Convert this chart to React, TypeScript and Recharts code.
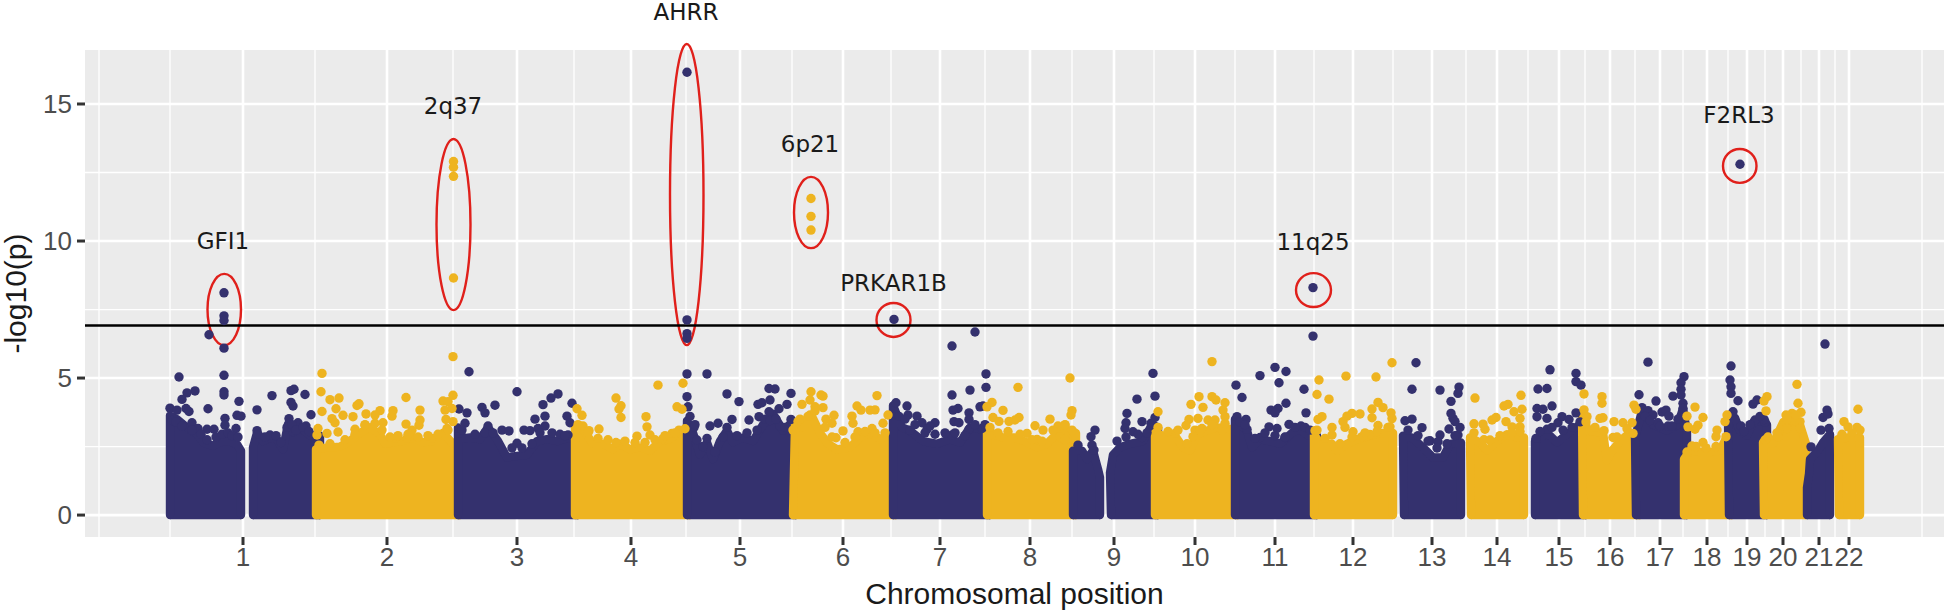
import {
  ComposedChart, Area, Scatter, XAxis, YAxis, CartesianGrid, ReferenceLine, ReferenceArea, ReferenceDot,
} from 'recharts';

const NAVY = '#34316e';
const GOLD = '#eeb420';

// x values are positions along the concatenated genome, in figure units
const chromosomes = ['1', '2', '3', '4', '5', '6', '7', '8', '9', '10', '11', '12', '13', '14', '15', '16', '17', '18', '19', '20', '21', '22'];
const chromosomeTicks = [243, 387, 517, 631, 740, 843, 940, 1030, 1114, 1195, 1275, 1353, 1432, 1497, 1559, 1610, 1660, 1707, 1747, 1783, 1819, 1849];
const minorBreaksX = [99, 170, 315, 453, 574, 686, 792, 891, 985, 1072, 1154, 1235, 1314, 1393, 1466, 1528, 1585, 1635, 1683, 1728, 1765, 1801, 1835, 1922];
const pTicks = [0, 5, 10, 15];
const minorBreaksY = [2.5, 7.5, 12.5];
const threshold = 6.92;

// upper edge of the solid mass of SNPs, [position, -log10(p)]
const navyMass: number[][][] = [
  [[170, 0], [170, 3.63], [177, 3.5], [187, 3.2], [197, 2.96], [203, 2.65], [213, 2.53], [223, 2.7], [230, 2.7], [237, 2.58], [241, 2.35], [241, 0]],
  [[253, 0], [253, 2.47], [257, 3.0], [263, 2.7], [270, 2.83], [277, 2.77], [283, 2.4], [288, 3.32], [300, 3.2], [310, 2.9], [320, 2.9], [320, 0]],
  [[458, 0], [458, 3.2], [463, 2.8], [470, 2.83], [480, 2.77], [488, 3.2], [498, 2.7], [507, 2.1], [517, 2.16], [527, 2.2], [537, 2.7], [547, 2.77], [558, 2.7], [567, 2.8], [578, 2.8], [578, 0]],
  [[687, 0], [687, 3.44], [693, 3.0], [700, 2.2], [707, 2.65], [713, 2.04], [720, 2.7], [727, 3.08], [733, 2.65], [743, 2.83], [753, 2.7], [763, 3.3], [773, 3.7], [783, 3.08], [792, 3.38], [796, 3.3], [796, 0]],
  [[893, 0], [893, 4.0], [902, 3.2], [910, 3.08], [923, 2.7], [937, 2.6], [950, 2.77], [960, 2.65], [970, 3.2], [980, 3.14], [990, 3.1], [990, 0]],
  [[1073, 0], [1073, 2.35], [1082, 2.35], [1087, 2.04], [1093, 2.35], [1098, 1.68], [1100, 1.37], [1100, 0]],
  [[1111, 0], [1110, 1.55], [1113, 2.2], [1120, 2.47], [1130, 2.6], [1143, 2.7], [1152, 3.3], [1158, 3.2], [1158, 0]],
  [[1235, 0], [1235, 3.5], [1247, 3.08], [1252, 2.47], [1260, 2.77], [1270, 2.7], [1280, 2.6], [1292, 3.0], [1300, 3.14], [1308, 2.9], [1317, 2.9], [1317, 0]],
  [[1404, 0], [1403, 2.9], [1412, 2.83], [1423, 2.47], [1433, 2.1], [1443, 2.1], [1450, 2.6], [1461, 2.65], [1461, 0]],
  [[1535, 0], [1535, 2.7], [1547, 3.0], [1557, 2.65], [1567, 2.95], [1578, 3.26], [1586, 3.2], [1586, 0]],
  [[1636, 0], [1635, 2.83], [1642, 3.8], [1653, 3.3], [1667, 3.08], [1678, 3.3], [1683, 3.9], [1687, 3.0], [1687, 0]],
  [[1729, 0], [1728, 3.6], [1735, 3.55], [1740, 3.08], [1747, 2.9], [1753, 3.38], [1763, 3.44], [1767, 3.3], [1767, 0]],
  [[1807, 0], [1807, 1.0], [1809, 1.5], [1810, 2.04], [1818, 2.35], [1823, 2.65], [1830, 2.95], [1830, 0]],
];

const goldMass: number[][][] = [
  [[316, 0], [316, 2.4], [325, 2.45], [340, 2.5], [350, 2.7], [360, 3.0], [370, 3.2], [380, 2.95], [385, 2.6], [393, 2.65], [403, 2.7], [413, 2.83], [423, 2.65], [433, 2.7], [443, 3.0], [453, 2.6], [460, 2.6], [460, 0]],
  [[575, 0], [575, 3.2], [583, 3.14], [593, 2.6], [603, 2.6], [613, 2.4], [620, 2.6], [630, 2.4], [640, 2.47], [650, 2.35], [660, 2.7], [670, 2.77], [680, 3.08], [690, 3.0], [690, 0]],
  [[793, 0], [795, 3.3], [803, 3.2], [812, 3.6], [820, 3.0], [828, 2.6], [837, 2.4], [850, 2.47], [860, 2.83], [870, 3.0], [880, 2.77], [890, 2.95], [896, 2.9], [896, 0]],
  [[987, 0], [987, 3.08], [993, 2.95], [1003, 2.83], [1015, 2.83], [1027, 2.65], [1037, 2.47], [1047, 2.6], [1060, 3.08], [1070, 3.08], [1076, 3.0], [1076, 0]],
  [[1155, 0], [1155, 3.0], [1163, 2.9], [1175, 2.9], [1183, 2.47], [1190, 2.35], [1197, 2.95], [1207, 3.08], [1217, 3.2], [1230, 3.14], [1238, 3.1], [1238, 0]],
  [[1314, 0], [1314, 2.95], [1320, 2.6], [1332, 2.6], [1337, 2.35], [1347, 2.6], [1357, 2.77], [1370, 2.9], [1383, 3.0], [1393, 3.0], [1393, 0]],
  [[1471, 0], [1470, 2.83], [1480, 2.65], [1487, 2.35], [1497, 2.7], [1507, 2.95], [1517, 2.83], [1524, 2.83], [1524, 0]],
  [[1583, 0], [1582, 3.75], [1588, 3.08], [1603, 3.0], [1607, 2.0], [1612, 2.35], [1620, 2.7], [1630, 3.0], [1640, 2.9], [1640, 0]],
  [[1684, 0], [1684, 2.04], [1690, 2.35], [1700, 2.3], [1710, 2.3], [1720, 2.35], [1726, 2.8], [1732, 2.7], [1732, 0]],
  [[1764, 0], [1763, 2.65], [1773, 2.6], [1783, 3.38], [1792, 3.5], [1800, 3.3], [1806, 2.6], [1806, 0]],
  [[1839, 0], [1838, 2.77], [1848, 2.83], [1860, 2.83], [1860, 0]],
];

// single SNPs standing clear of the mass
const navySnps = [
  [224, 8.11], [224, 7.27], [224, 7.1], [209, 6.58], [224, 6.09], [224, 5.1], [224, 4.5], [224, 4.38], [179, 5.04], [195, 4.53], [187, 4.46], [182, 4.22],
  [186, 3.89], [189, 3.78], [208, 3.88], [170, 3.9], [177, 3.83], [192, 3.37], [198, 3.16], [207, 3.13], [214, 3.13], [239, 4.15], [237, 3.64], [241, 3.61],
  [225, 3.53], [225, 3.28], [236, 3.16], [257, 3.84], [272, 4.36], [291, 4.54], [294, 4.59], [305, 4.4], [291, 4.11], [293, 3.98], [311, 3.66], [289, 3.52],
  [298, 3.37], [306, 3.25], [257, 3.08], [270, 2.92], [293, 3.04],
  [172, 3.45], [176, 3.4], [182, 3.25], [192, 3.1], [201, 2.95], [207, 2.75], [216, 2.85], [222, 2.95], [228, 3.0], [232, 2.9], [238, 2.85], [258, 2.95],
  [265, 2.85], [276, 2.9], [281, 2.65], [287, 3.2], [292, 3.3], [296, 3.1], [303, 3.2], [309, 3.05],
  [469, 5.23], [459, 3.87], [467, 3.73], [465, 3.35], [459, 2.98], [482, 3.93], [485, 3.73], [495, 4.01], [488, 3.25], [502, 3.1], [509, 3.07], [517, 4.5],
  [517, 2.62], [524, 3.1], [530, 3.08], [535, 3.5], [543, 4.03], [551, 4.27], [558, 4.42], [545, 3.61], [545, 3.25], [538, 3.16], [572, 4.08], [567, 3.61],
  [570, 3.37], [568, 2.92],
  [462, 3.1], [475, 2.95], [485, 3.0], [493, 3.0], [512, 2.45], [522, 2.45], [532, 2.6], [540, 3.0], [552, 3.0], [560, 2.95], [565, 2.9],
  [687, 16.16], [687, 7.12], [687, 6.62], [687, 6.45], [687, 5.15], [707, 5.15], [687, 4.32], [688, 3.95], [727, 4.42], [739, 4.14], [769, 4.62], [775, 4.6],
  [770, 4.2], [791, 4.44], [758, 4.04], [762, 4.1], [787, 4.04], [779, 3.88], [749, 3.47], [759, 3.59], [769, 3.77], [710, 3.25], [718, 3.35], [732, 3.49],
  [727, 3.2], [707, 2.8], [694, 3.2], [697, 2.74], [791, 3.49], [780, 3.25],
  [690, 3.6], [695, 3.3], [703, 2.5], [715, 2.3], [723, 2.85], [737, 2.9], [747, 3.0], [757, 3.1], [765, 3.5], [770, 3.45], [776, 3.5], [785, 3.2],
  [894, 7.14], [952, 6.17], [975, 6.68], [986, 5.15], [986, 4.66], [952, 4.38], [970, 4.56], [896, 4.1], [907, 3.98], [908, 3.65], [917, 3.61], [922, 3.37],
  [935, 3.37], [930, 3.25], [958, 3.89], [953, 3.83], [954, 3.41], [959, 3.37], [969, 3.73], [969, 3.49], [969, 3.13], [980, 3.95], [983, 3.98], [982, 3.16],
  [910, 3.1], [927, 3.13], [952, 2.92],
  [899, 3.6], [905, 3.5], [915, 3.3], [925, 3.0], [935, 2.95], [945, 3.0], [955, 3.0], [965, 2.9], [975, 3.3], [985, 3.3],
  [1095, 3.1], [1091, 2.86], [1094, 2.37], [1153, 5.17], [1155, 4.34], [1137, 4.23], [1127, 3.71], [1126, 3.37], [1133, 3.04], [1142, 3.41], [1151, 3.35],
  [1155, 3.56], [1142, 2.83], [1125, 3.16],
  [1078, 2.55], [1092, 2.55], [1117, 2.7], [1126, 2.85], [1138, 2.95], [1147, 3.0],
  [1313, 8.3], [1313, 6.53], [1260, 5.09], [1275, 5.39], [1286, 5.24], [1279, 4.83], [1236, 4.74], [1242, 4.29], [1286, 4.08], [1278, 3.89], [1271, 3.83],
  [1275, 3.73], [1289, 3.31], [1269, 3.22], [1277, 3.16], [1237, 3.59], [1246, 3.49], [1247, 3.13], [1285, 2.83], [1260, 2.83], [1304, 4.59], [1306, 3.73],
  [1301, 3.25],
  [1240, 3.4], [1245, 3.3], [1255, 2.8], [1265, 3.0], [1275, 2.9], [1285, 2.85], [1295, 3.2], [1305, 3.2], [1310, 3.1],
  [1416, 5.56], [1412, 4.59], [1440, 4.56], [1459, 4.67], [1458, 4.44], [1451, 4.15], [1451, 3.71], [1453, 3.53], [1460, 3.2], [1449, 3.14], [1455, 3.41],
  [1405, 3.44], [1412, 3.5], [1422, 3.19], [1430, 2.71], [1440, 2.92], [1458, 2.92], [1438, 2.68],
  [1408, 3.1], [1418, 2.9], [1428, 2.7], [1437, 2.45], [1447, 2.6], [1455, 2.9],
  [1550, 5.3], [1538, 4.6], [1547, 4.62], [1576, 5.17], [1576, 4.87], [1581, 4.74], [1537, 3.89], [1543, 3.86], [1552, 3.98], [1537, 3.59], [1547, 3.53],
  [1558, 3.37], [1562, 3.59], [1569, 3.49], [1576, 3.73], [1547, 3.13], [1536, 2.8],
  [1540, 3.05], [1552, 3.2], [1563, 3.1], [1572, 3.2], [1580, 3.4],
  [1648, 5.58], [1639, 4.39], [1642, 3.92], [1648, 3.81], [1653, 3.65], [1656, 4.16], [1662, 3.76], [1666, 3.83], [1669, 3.61], [1673, 4.34], [1684, 5.05],
  [1681, 4.83], [1681, 4.59], [1681, 4.38], [1683, 4.08], [1683, 3.89], [1681, 3.59], [1658, 3.37], [1668, 3.25],
  [1645, 3.6], [1650, 3.45], [1660, 3.25], [1672, 3.25], [1678, 3.5],
  [1740, 12.8], [1731, 5.44], [1730, 4.93], [1731, 4.68], [1731, 4.44], [1738, 4.17], [1757, 4.2], [1753, 4.05], [1765, 3.4], [1741, 3.25], [1764, 3.49],
  [1755, 3.47], [1733, 3.77], [1744, 3.05], [1750, 3.3], [1760, 3.6],
  [1825, 6.24], [1811, 2.49], [1827, 3.83], [1823, 3.56], [1828, 3.69], [1821, 3.1], [1829, 3.16],
];

const goldSnps = [
  [322, 5.17], [321, 4.5], [330, 4.21], [339, 4.27], [322, 3.78], [336, 3.88], [343, 3.64], [332, 3.52], [335, 3.37], [338, 3.03], [353, 3.59], [357, 4.0],
  [359, 4.06], [366, 3.69], [380, 3.81], [375, 3.65], [393, 3.81], [392, 3.61], [383, 3.37], [406, 4.29], [420, 3.83], [420, 3.47], [419, 3.28], [406, 3.32],
  [412, 3.1], [453.5, 12.9], [453.5, 12.69], [453.5, 12.36], [453.5, 8.65], [453, 5.78], [453, 4.37], [443, 4.16], [448, 4.14], [445, 3.83], [452, 3.89],
  [446, 3.49], [453, 3.41], [447, 3.16], [317, 2.92], [318, 3.16], [327, 2.98], [355, 3.13], [365, 3.28], [395, 2.8], [407, 2.8], [432, 2.8],
  [319, 2.55], [330, 2.6], [345, 2.75], [355, 2.95], [365, 3.3], [375, 3.35], [382, 3.1], [390, 2.85], [398, 2.9], [408, 2.95], [418, 2.85], [428, 2.9], [438, 2.95], [448, 3.1],
  [577, 3.88], [582, 3.64], [576, 3.13], [583, 3.25], [589, 3.08], [599, 3.14], [616, 4.27], [621, 3.99], [619, 3.87], [621, 3.56], [637, 2.88], [646, 3.59],
  [647, 3.22], [650, 2.92], [658, 4.74], [663, 2.79], [683, 4.81], [677, 3.95], [682, 3.86], [679, 3.1], [672, 2.98],
  [578, 3.3], [588, 3.0], [598, 2.8], [608, 2.75], [616, 2.65], [625, 2.7], [635, 2.65], [645, 2.65], [655, 2.75], [665, 2.9], [675, 3.0], [685, 3.15],
  [811, 11.55], [811, 10.9], [811, 10.4], [811, 4.5], [821, 4.38], [823, 4.34], [802, 4.04], [810, 4.2], [815, 3.95], [823, 3.92], [877, 4.36], [857, 3.98],
  [861, 3.83], [852, 3.61], [853, 3.35], [870, 3.83], [875, 3.84], [834, 3.64], [826, 3.5], [832, 3.35], [843, 3.07], [836, 2.82], [798, 3.41], [793, 3.1],
  [810, 3.65], [858, 3.04], [872, 3.16], [883, 3.35], [888, 3.65],
  [800, 3.5], [808, 3.6], [815, 3.8], [825, 3.2], [832, 2.85], [845, 2.65], [855, 2.85], [865, 3.05], [875, 3.0], [885, 3.0],
  [1018, 4.66], [992, 4.11], [987, 3.95], [1003, 3.82], [993, 3.56], [999, 3.42], [1009, 3.42], [1019, 3.56], [1015, 3.47], [1027, 2.98], [1035, 3.26],
  [1050, 3.5], [1043, 3.1], [1037, 2.76], [1070, 5.0], [1072, 3.81], [1071, 3.65], [1058, 3.25], [1065, 3.28], [1060, 2.86], [1072, 3.1], [1065, 2.74],
  [990, 3.2], [998, 3.0], [1008, 3.05], [1020, 2.95], [1032, 2.75], [1042, 2.7], [1053, 3.1], [1065, 3.3],
  [1212, 5.6], [1191, 4.04], [1199, 4.32], [1203, 3.93], [1212, 4.32], [1216, 4.2], [1225, 4.1], [1223, 3.83], [1225, 3.59], [1158, 3.77], [1189, 3.49],
  [1186, 3.27], [1198, 3.53], [1208, 3.47], [1215, 3.47], [1195, 3.1], [1202, 3.16], [1175, 2.98], [1222, 3.1], [1193, 2.86],
  [1158, 3.2], [1168, 3.05], [1178, 3.1], [1187, 2.6], [1200, 3.1], [1212, 3.3], [1225, 3.35],
  [1319, 4.93], [1346, 5.07], [1376, 5.04], [1392, 5.56], [1317, 4.4], [1329, 4.23], [1322, 3.59], [1318, 3.49], [1315, 3.08], [1332, 3.2], [1332, 2.92],
  [1352, 3.71], [1347, 3.61], [1343, 3.41], [1360, 3.69], [1372, 3.87], [1378, 4.11], [1383, 3.92], [1372, 3.55], [1391, 3.73], [1392, 3.52], [1378, 3.27],
  [1353, 3.04], [1345, 3.2], [1390, 3.22], [1362, 2.86], [1370, 2.94],
  [1317, 3.1], [1325, 2.8], [1340, 2.6], [1352, 2.85], [1365, 3.0], [1377, 3.05], [1388, 3.2],
  [1475, 4.27], [1504, 3.98], [1508, 4.04], [1521, 4.37], [1514, 3.77], [1522, 3.86], [1520, 3.53], [1474, 3.33], [1483, 3.32], [1485, 3.13], [1492, 3.47],
  [1496, 3.56], [1506, 3.41], [1490, 2.74], [1512, 3.22], [1520, 3.22],
  [1474, 3.0], [1484, 2.75], [1500, 2.9], [1512, 3.0], [1520, 3.05],
  [1584, 4.42], [1584, 3.84], [1587, 3.59], [1602, 4.32], [1602, 4.08], [1600, 3.53], [1603, 3.55], [1604, 3.08], [1614, 3.41], [1623, 3.37], [1613, 2.83],
  [1634, 4.01], [1636, 3.86], [1632, 3.37], [1633, 2.98], [1586, 3.4], [1595, 3.2], [1617, 2.85], [1627, 3.15],
  [1695, 3.94], [1687, 3.61], [1703, 3.56], [1688, 3.22], [1695, 3.13], [1698, 3.28], [1717, 3.1], [1716, 2.86], [1703, 2.65], [1692, 2.52], [1727, 3.65],
  [1725, 3.41], [1726, 2.86], [1687, 2.3], [1696, 2.5], [1706, 2.45], [1716, 2.5],
  [1767, 4.32], [1764, 4.16], [1766, 3.8], [1797, 4.77], [1798, 4.08], [1801, 3.75], [1792, 3.71], [1786, 3.65], [1785, 3.41], [1800, 3.41], [1777, 3.0],
  [1765, 2.74], [1800, 3.16], [1787, 3.16], [1768, 2.85], [1778, 2.85], [1787, 3.5], [1796, 3.65],
  [1858, 3.86], [1844, 3.41], [1848, 3.22], [1857, 3.2], [1860, 3.1], [1842, 2.95], [1852, 3.0],
];

// locus name, label position, ring extent [x1, x2, y1, y2]
const lociNames = ['GFI1', '2q37', 'AHRR', '6p21', 'PRKAR1B', '11q25', 'F2RL3'];
const lociLabelAt = [[223, 10.0], [453, 14.95], [686, 18.36], [810, 13.55], [893.5, 8.47], [1313, 9.96], [1739, 14.6]];
const lociRings = [
  [207.5, 241, 6.2, 8.8], [436.5, 470.5, 7.48, 13.72], [670, 703.5, 6.2, 17.19], [794, 828, 9.74, 12.34],
  [876.5, 910.5, 6.5, 7.74], [1296, 1331, 7.59, 8.83], [1723, 1756.5, 12.12, 13.36],
];

const toRows = (rows: number[][]) => rows.map(([pos, top]) => ({ pos, top }));
const SnpDot = (p: any) => <circle cx={p.cx} cy={p.cy} r={4.7} fill={p.fill} />;
const Ring = (p: any) => (
  <ellipse
    cx={p.x + p.width / 2} cy={p.y + p.height / 2} rx={p.width / 2} ry={p.height / 2}
    fill="none" stroke="#e0201b" strokeWidth={2.4}
  />
);

const massArea = (rows: number[][], color: string, key: string) => (
  <Area
    key={key} data={toRows(rows)} dataKey="top" type="linear" baseValue={-0.15}
    fill={color} fillOpacity={1} stroke={color} strokeWidth={8.4} strokeLinejoin="round" strokeLinecap="round"
    dot={false} activeDot={false} isAnimationActive={false}
  />
);

// gold and navy chromosomes alternate, later ones sit on top of earlier ones
const massSeries = [...navyMass.map((r) => ({ r, c: NAVY })), ...goldMass.map((r) => ({ r, c: GOLD }))]
  .sort((a, b) => a.r[0][0] - b.r[0][0]);

export default function App() {
  return (
    <div style={{ position: 'absolute', left: 0, top: 0, background: '#fff' }}>
      <ComposedChart width={1946} height={613} margin={{ top: 50, right: 2, bottom: 0, left: 0 }}>
        <CartesianGrid fill="#ebebeb" stroke="#fff" strokeWidth={1.3} verticalValues={minorBreaksX} horizontalValues={minorBreaksY} />
        <CartesianGrid stroke="#fff" strokeWidth={2.6} verticalValues={chromosomeTicks} horizontalValues={pTicks} />
        <XAxis
          type="number" dataKey="pos" domain={[85, 1944]} ticks={chromosomeTicks} interval={0} allowDataOverflow
          tickFormatter={(v: number) => chromosomes[chromosomeTicks.indexOf(v)]}
          height={76} axisLine={false} tickSize={8} tickMargin={3}
          tickLine={{ stroke: '#333', strokeWidth: 3 }}
          tick={{ fontFamily: 'Liberation Sans', fontSize: 26, fill: '#4d4d4d' }}
          label={{ value: 'Chromosomal position', position: 'insideBottom', offset: 9, fontFamily: 'Liberation Sans', fontSize: 30, fill: '#1a1a1a' }}
        />
        <YAxis
          type="number" dataKey="top" domain={[-0.8, 16.97]} ticks={pTicks} interval={0} allowDataOverflow
          width={85} axisLine={false} tickSize={8} tickMargin={5}
          tickLine={{ stroke: '#333', strokeWidth: 3 }}
          tick={{ fontFamily: 'Liberation Sans', fontSize: 26, fill: '#4d4d4d' }}
          label={{ value: '-log10(p)', angle: -90, position: 'insideLeft', offset: 15, fontFamily: 'Liberation Sans', fontSize: 30, fill: '#1a1a1a', style: { textAnchor: 'middle' } }}
        />
        {massSeries.map((m, i) => massArea(m.r, m.c, `mass-${i}`))}
        <Scatter data={toRows(navySnps)} fill={NAVY} shape={SnpDot} isAnimationActive={false} />
        <Scatter data={toRows(goldSnps)} fill={GOLD} shape={SnpDot} isAnimationActive={false} />
        <ReferenceLine y={threshold} stroke="#000" strokeWidth={2.4} />
        {lociRings.map(([x1, x2, y1, y2], i) => (
          <ReferenceArea key={lociNames[i]} x1={x1} x2={x2} y1={y1} y2={y2} ifOverflow="visible" shape={Ring} />
        ))}
        {lociNames.map((name, i) => (
          <ReferenceDot
            key={name} x={lociLabelAt[i][0]} y={lociLabelAt[i][1]} r={0} ifOverflow="visible" stroke="none"
            label={{ value: name, position: 'center', fontFamily: 'DejaVu Sans', fontSize: 23, fill: '#1a1a1a' }}
          />
        ))}
      </ComposedChart>
    </div>
  );
}
